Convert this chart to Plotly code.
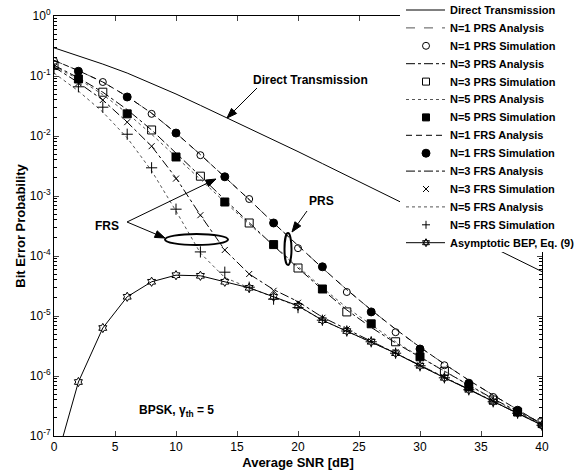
import math
import plotly.graph_objects as go

# ---------------- data ----------------
snr = [0, 2, 4, 6, 8, 10, 12, 14, 16, 18, 20, 22, 24, 26, 28, 30, 32, 34, 36, 38, 40]
snr_a = [0, 4, 8, 12, 16, 20, 24, 28, 32, 36, 40]
snr_b = [2, 6, 10, 14, 18, 22, 26, 30, 34, 38]

direct = [0.295, 0.219, 0.158, 0.112, 0.0759, 0.0501, 0.0324, 0.0209, 0.0135, 0.00851,
          0.00550, 0.00347, 0.00219, 0.00138, 8.71e-4, 5.50e-4, 3.47e-4, 2.19e-4,
          1.38e-4, 8.71e-5, 5.50e-5]

n1_prs_ana = [0.182, 0.123, 0.0794, 0.0457, 0.0240, 0.0112, 4.90e-3, 2.09e-3, 8.71e-4,
              3.55e-4, 1.48e-4, 6.31e-5, 2.75e-5, 1.26e-5, 6.03e-6, 3.02e-6, 1.58e-6,
              8.51e-7, 4.79e-7, 2.75e-7, 1.58e-7]
n1_prs_sim = [0.178, 0.0794, 0.0234, 4.79e-3, 8.91e-4, 1.35e-4, 2.51e-5, 5.37e-6,
              1.51e-6, 4.47e-7, 1.51e-7]

n3_prs_ana = [0.151, 0.0933, 0.0537, 0.0275, 0.0126, 5.25e-3, 2.14e-3, 8.71e-4, 3.55e-4,
              1.48e-4, 6.31e-5, 2.75e-5, 1.26e-5, 6.46e-6, 3.55e-6, 2.04e-6, 1.20e-6,
              7.08e-7, 4.17e-7, 2.57e-7, 1.62e-7]
n3_prs_sim = [0.151, 0.0537, 0.0126, 2.14e-3, 3.55e-4, 6.31e-5, 1.17e-5, 3.72e-6,
              1.20e-6, 3.98e-7, 1.66e-7]

n5_prs_ana = [0.145, 0.0891, 0.0490, 0.0240, 0.0107, 4.47e-3, 1.86e-3, 7.94e-4, 3.39e-4,
              1.51e-4, 6.61e-5, 2.95e-5, 1.38e-5, 7.08e-6, 3.72e-6, 2.09e-6, 1.20e-6,
              6.92e-7, 4.07e-7, 2.51e-7, 1.58e-7]
n5_prs_sim = [0.0891, 0.0234, 4.47e-3, 7.94e-4, 1.55e-4, 2.82e-5, 7.41e-6, 2.09e-6,
              6.61e-7, 2.51e-7]

n1_frs_ana = [0.182, 0.123, 0.0794, 0.0457, 0.0240, 0.0112, 4.90e-3, 2.09e-3, 8.71e-4,
              3.55e-4, 1.48e-4, 6.31e-5, 2.75e-5, 1.26e-5, 6.03e-6, 3.02e-6, 1.58e-6,
              8.51e-7, 4.79e-7, 2.75e-7, 1.58e-7]
n1_frs_sim = [0.120, 0.0447, 0.0112, 2.09e-3, 3.55e-4, 6.61e-5, 1.17e-5, 2.82e-6,
              7.59e-7, 2.69e-7]

n3_frs_ana = [0.141, 0.0776, 0.0398, 0.0170, 6.76e-3, 2.00e-3, 4.79e-4, 1.26e-4, 5.01e-5,
              2.75e-5, 1.74e-5, 9.55e-6, 6.03e-6, 3.80e-6, 2.45e-6, 1.51e-6, 9.55e-7,
              6.03e-7, 3.80e-7, 2.40e-7, 1.55e-7]
n3_frs_sim = [0.141, 0.0759, 0.0398, 0.0170, 6.76e-3, 1.95e-3, 4.79e-4, 1.26e-4, 5.01e-5,
              2.63e-5, 1.66e-5, 9.33e-6, 6.03e-6, 3.80e-6, 2.51e-6, 1.51e-6, 9.55e-7,
              6.03e-7, 3.80e-7, 2.40e-7, 1.55e-7]

n5_frs_ana = [0.112, 0.0562, 0.0251, 9.33e-3, 2.63e-3, 5.62e-4, 1.12e-4, 4.37e-5, 2.95e-5,
              2.04e-5, 1.45e-5, 8.51e-6, 5.62e-6, 3.72e-6, 2.40e-6, 1.48e-6, 9.33e-7,
              5.89e-7, 3.72e-7, 2.40e-7, 1.51e-7]
n5_frs_sim = [0.132, 0.0661, 0.0302, 0.0107, 2.95e-3, 6.03e-4, 1.17e-4, 5.37e-5, 3.02e-5,
              1.91e-5, 1.38e-5, 8.51e-6, 5.62e-6, 3.72e-6, 2.40e-6, 1.48e-6, 9.33e-7,
              5.89e-7, 3.72e-7, 2.40e-7, 1.51e-7]

asymptotic = [2.88e-8, 7.94e-7, 6.31e-6, 2.09e-5, 3.72e-5, 4.79e-5, 4.68e-5, 3.72e-5,
              2.95e-5, 2.09e-5, 1.48e-5, 8.51e-6, 5.62e-6, 3.72e-6, 2.40e-6, 1.48e-6,
              9.33e-7, 5.89e-7, 3.72e-7, 2.40e-7, 1.51e-7]

y_tickvals = [1e-7, 1e-6, 1e-5, 1e-4, 1e-3, 1e-2, 1e-1, 1]
y_ticktext = ["10<sup>-7</sup>", "10<sup>-6</sup>", "10<sup>-5</sup>", "10<sup>-4</sup>",
              "10<sup>-3</sup>", "10<sup>-2</sup>", "10<sup>-1</sup>", "10<sup>0</sup>"]
x_tickvals = [0, 5, 10, 15, 20, 25, 30, 35, 40]

# ---------------- styling ----------------
NARROW = "Liberation Sans Narrow, Arial Narrow, Liberation Sans, Arial, sans-serif"
PLAIN = "Liberation Sans, Arial, sans-serif"
BLACK = "black"
GREY = "#555555"

# plot area in pixels
W, H = 575, 470
L, R, T, B = 54, 542, 16, 436


def xp(px):
    return (px - L) / (R - L)


def yp(py):
    return (B - py) / (B - T)


fig = go.Figure()
legend_items = []  # (name, line dash or None, line colour, marker kind or None)


def line(x, y, name, dash, color=BLACK, width=1):
    fig.add_trace(go.Scatter(x=x, y=y, name=name, mode="lines", showlegend=False,
                             line=dict(color=color, width=width, dash=dash)))
    legend_items.append((name, dash, color, None))


def marks(x, y, name, symbol, size, kind):
    fig.add_trace(go.Scatter(x=x, y=y, name=name, mode="markers", showlegend=False,
                             marker=dict(symbol=symbol, size=size, color=BLACK,
                                         line=dict(color=BLACK, width=1))))
    legend_items.append((name, None, BLACK, kind))


line(snr, direct, "Direct Transmission", "solid")
line(snr, n1_prs_ana, "N=1 PRS Analysis", "dash", GREY)
marks(snr_a, n1_prs_sim, "N=1 PRS Simulation", "circle-open", 7, "circle-open")
line(snr, n3_prs_ana, "N=3 PRS Analysis", "dashdot")
marks(snr_a, n3_prs_sim, "N=3 PRS Simulation", "square-open", 8, "square-open")
line(snr, n5_prs_ana, "N=5 PRS Analysis", "dot", GREY)
marks(snr_b, n5_prs_sim, "N=5 PRS Simulation", "square", 8, "square")
line(snr, n1_frs_ana, "N=1 FRS Analysis", "6px,4px")
marks(snr_b, n1_frs_sim, "N=1 FRS Simulation", "circle", 8, "circle")
line(snr, n3_frs_ana, "N=3 FRS Analysis", "dashdot")
marks(snr, n3_frs_sim, "N=3 FRS Simulation", "x-thin-open", 6, "x")
line(snr, n5_frs_ana, "N=5 FRS Analysis", "dot", GREY)
marks(snr, n5_frs_sim, "N=5 FRS Simulation", "cross-thin-open", 8, "cross")
fig.add_trace(go.Scatter(x=snr, y=asymptotic, name="Asymptotic BEP, Eq. (9)",
                         mode="lines+markers", showlegend=False,
                         line=dict(color=BLACK, width=1),
                         marker=dict(symbol="hexagram-open", size=7, color=BLACK,
                                     line=dict(color=BLACK, width=1))))
legend_items.append(("Asymptotic BEP, Eq. (9)", "solid", BLACK, "hexagram"))

# ---------------- hand-drawn legend (white box over the top-right corner) ----------------
shapes = []
shapes.append(dict(type="rect", xref="paper", yref="paper", layer="above",
                   x0=xp(400), x1=xp(W), y0=yp(252), y1=yp(0),
                   fillcolor="white", line=dict(width=0)))

LEG_Y0, LEG_DY = 10, 17.9
SYM_X0, SYM_X1, SYM_XC, TXT_X = 406, 445, 426, 448
leg_font = dict(family=NARROW, size=11, color=BLACK, weight="bold")
annotations = []


def pix_shape(kind, cx, cy):
    base = dict(xref="paper", yref="paper", layer="above",
                xsizemode="pixel", ysizemode="pixel",
                xanchor=xp(cx), yanchor=yp(cy))
    if kind in ("circle-open", "circle"):
        r = 3.5 if kind == "circle-open" else 4
        d = dict(type="circle", x0=-r, x1=r, y0=-r, y1=r, line=dict(color=BLACK, width=1),
                 fillcolor="white" if kind == "circle-open" else BLACK)
    elif kind in ("square-open", "square"):
        r = 3.5
        d = dict(type="rect", x0=-r, x1=r, y0=-r, y1=r, line=dict(color=BLACK, width=1),
                 fillcolor="white" if kind == "square-open" else BLACK)
    elif kind == "x":
        d = dict(type="path", path="M-3,-3L3,3M-3,3L3,-3", line=dict(color=BLACK, width=1))
    elif kind == "cross":
        d = dict(type="path", path="M-4,0L4,0M0,-4L0,4", line=dict(color=BLACK, width=1))
    else:  # hexagram
        d = dict(type="path",
                 path="M0,4L-3.46,-2L3.46,-2ZM0,-4L-3.46,2L3.46,2Z",
                 fillcolor="white", line=dict(color=BLACK, width=1))
    base.update(d)
    return base


for i, (name, dash, color, kind) in enumerate(legend_items):
    cy = LEG_Y0 + LEG_DY * i
    if dash is not None:
        shapes.append(dict(type="line", xref="paper", yref="paper", layer="above",
                           x0=xp(SYM_X0), x1=xp(SYM_X1), y0=yp(cy), y1=yp(cy),
                           line=dict(color=color, width=1, dash=dash)))
    if kind is not None:
        shapes.append(pix_shape(kind, SYM_XC, cy))
    annotations.append(dict(xref="paper", yref="paper", x=xp(TXT_X), y=yp(cy),
                            xanchor="left", yanchor="middle", showarrow=False,
                            text=name, font=leg_font))

# ---------------- chart annotations ----------------
afont = dict(family=NARROW, size=12, color=BLACK, weight="bold")
labels = [
    ("Direct Transmission", 310, 80, "center"),
    ("PRS", 321, 201, "center"),
    ("FRS", 107, 226, "center"),
    ("BPSK, γ<sub>th</sub> = 5", 137, 411, "left"),
]
for text, px, py, anchor in labels:
    annotations.append(dict(xref="paper", yref="paper", showarrow=False, font=afont,
                            xanchor=anchor, yanchor="middle", text=text,
                            x=xp(px), y=yp(py)))

arrows = [  # (tip px, tail px)
    ((227, 118), (257, 88)),
    ((292, 232), (307, 211)),
    ((216, 179), (127, 222)),
    ((165, 238), (127, 222)),
]
for (tx, ty), (sx, sy) in arrows:
    dx, dy = tx - sx, ty - sy
    n = math.hypot(dx, dy)
    ux, uy = dx / n, dy / n
    hl, hw = 10, 3.6
    bx, by = tx - ux * hl, ty - uy * hl
    p1 = (bx - uy * hw, by + ux * hw)
    p2 = (bx + uy * hw, by - ux * hw)
    shapes.append(dict(type="line", xref="paper", yref="paper", layer="above",
                       x0=xp(sx), y0=yp(sy), x1=xp(bx), y1=yp(by),
                       line=dict(color=BLACK, width=1)))
    shapes.append(dict(type="path", xref="paper", yref="paper", layer="above",
                       path=f"M{xp(tx)},{yp(ty)}L{xp(p1[0])},{yp(p1[1])}"
                            f"L{xp(p2[0])},{yp(p2[1])}Z",
                       fillcolor=BLACK, line=dict(color=BLACK, width=1)))

shapes.append(dict(type="circle", xref="paper", yref="paper", layer="above",
                   x0=xp(284.5), x1=xp(291.5), y0=yp(265), y1=yp(233),
                   line=dict(color=BLACK, width=2)))
shapes.append(dict(type="circle", xref="paper", yref="paper", layer="above",
                   x0=xp(165), x1=xp(228), y0=yp(245), y1=yp(234),
                   line=dict(color=BLACK, width=2)))

minor_vals = [m * 10.0 ** e for e in range(-7, 0) for m in range(2, 10)]

fig.update_layout(
    width=W, height=H,
    margin=dict(l=L, r=W - R, t=T, b=H - B, autoexpand=False),
    paper_bgcolor="white", plot_bgcolor="white",
    font=dict(family=PLAIN, size=12, color=BLACK),
    showlegend=False,
    shapes=shapes,
    annotations=annotations,
    xaxis=dict(range=[0, 40], tickvals=x_tickvals, ticks="inside", ticklen=5,
               showline=True, linecolor=BLACK, linewidth=1, mirror="ticks",
               showgrid=False, zeroline=False,
               tickfont=dict(family=PLAIN, size=12),
               title=dict(text="Average SNR [dB]", standoff=10,
                          font=dict(family=NARROW, size=13, weight="bold"))),
    yaxis=dict(type="log", range=[-7, 0], tickvals=y_tickvals, ticktext=y_ticktext,
               ticks="inside", ticklen=5, showline=True, linecolor=BLACK, linewidth=1,
               mirror="ticks", showgrid=False, zeroline=False,
               tickfont=dict(family=PLAIN, size=12),
               minor=dict(tickmode="array", tickvals=minor_vals, ticks="inside",
                          ticklen=3, tickcolor=BLACK, showgrid=False),
               title=dict(text="Bit Error Probability", standoff=1,
                          font=dict(family=NARROW, size=13, weight="bold"))),
)

fig.write_html("out.html")
